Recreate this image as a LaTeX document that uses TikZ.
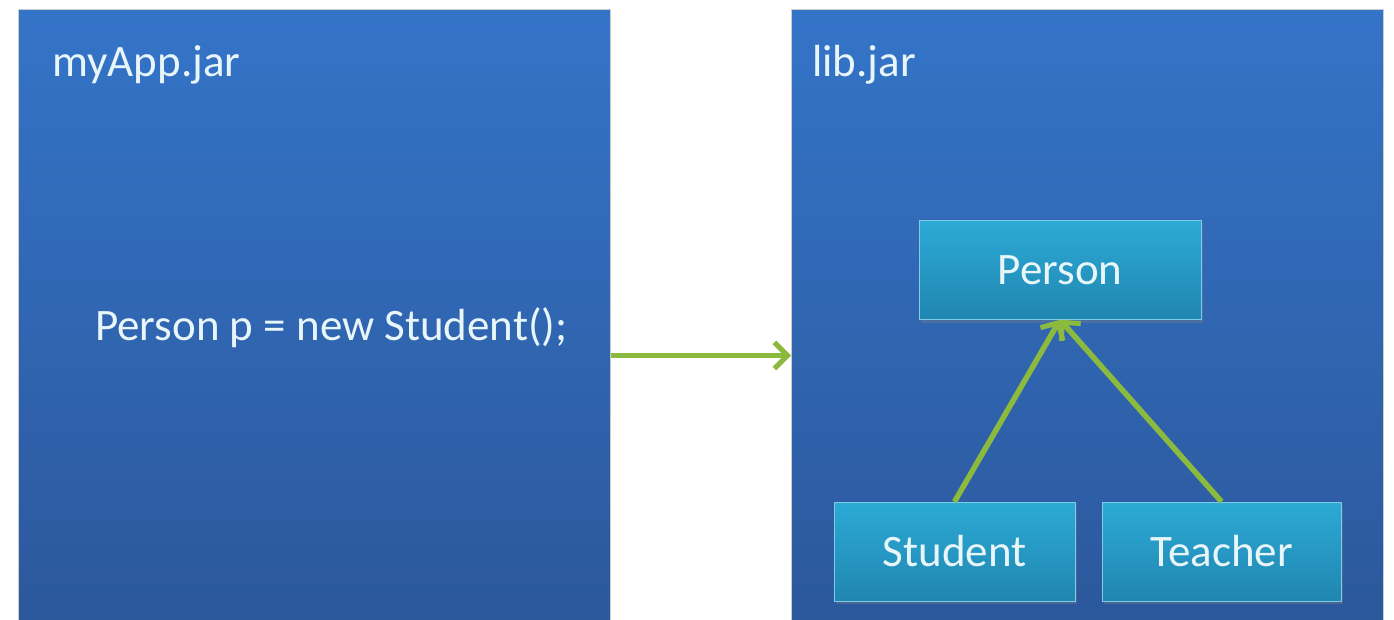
\documentclass[tikz,border=0pt]{standalone}
\usepackage{fontspec}
\setmainfont{Carlito}
\usetikzlibrary{arrows.meta,shadows}

\definecolor{paneltop}{RGB}{52,116,200}
\definecolor{panelbot}{RGB}{44,88,156}
\definecolor{classtop}{RGB}{44,170,214}
\definecolor{classbot}{RGB}{32,134,176}
\definecolor{linkgreen}{RGB}{140,186,62}
\definecolor{textwhite}{RGB}{232,246,250}

\tikzset{
	panel/.style={draw=gray!40, line width=1pt, top color=paneltop, bottom color=panelbot, inner sep=0pt, minimum width=592, minimum height=611},
	classbox/.style={draw=classtop!60!white, line width=0.6pt, top color=classtop, bottom color=classbot, inner sep=0pt, minimum height=99, text=textwhite, font=\fontsize{45}{48}\selectfont, drop shadow={shadow xshift=2pt, shadow yshift=-3pt, opacity=0.35}},
	label/.style={text=textwhite, inner sep=0pt},
	link/.style={linkgreen, line width=5.5pt, -{Straight Barb[length=13pt, width=26pt, line width=5pt]}}
}

\begin{document}
\begin{tikzpicture}[x=1pt, y=-1pt]
	\useasboundingbox (0,0) rectangle (1394,620);
	\fill [white] (0,0) rectangle (1394,620);

	\node [panel] (app) at (314,315.5) {};
	\node [panel] (lib) at (1087.5,315.5) {};

	\node [label, anchor=base west, font=\fontsize{45}{48}\selectfont] (apptitle) at (52,77) {myApp.jar};
	\node [label, anchor=base west, font=\fontsize{45}{48}\selectfont] (libtitle) at (812,77) {lib.jar};

	\node [label, anchor=base west, font=\fontsize{45}{48}\selectfont] (code) at (95,340) {Person p = new Student();};

	\node [classbox, minimum width=282] (person) at (1060,270) {Person};
	\node [classbox, minimum width=241] (student) at (954.5,551.5) {Student};
	\node [classbox, minimum width=239] (teacher) at (1221.5,551.5) {Teacher};

	\draw [link] ([yshift=-40pt]app.east) -- ([yshift=-40pt]lib.west);
	\draw [link] (student.north) -- (person.south);
	\draw [link] (teacher.north) -- (person.south);
\end{tikzpicture}
\end{document}
